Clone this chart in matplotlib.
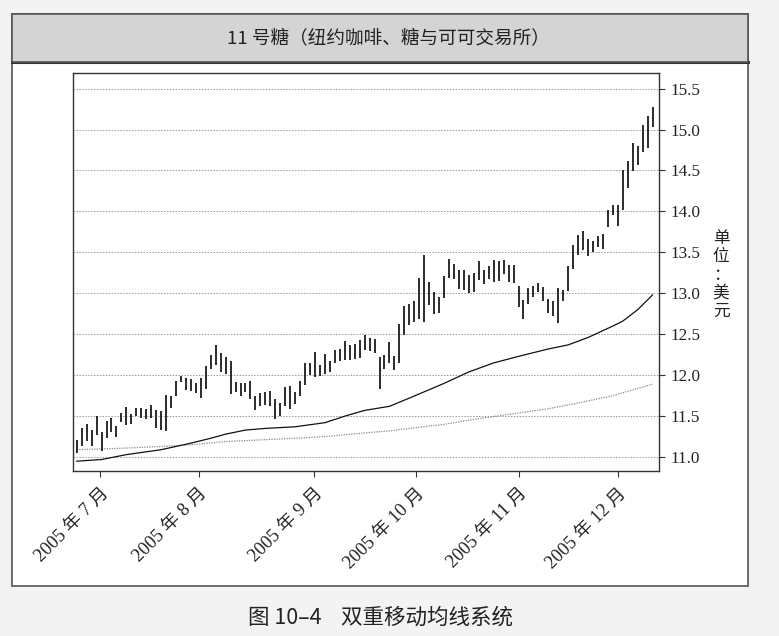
import matplotlib
matplotlib.use("Agg")
import matplotlib.pyplot as plt
from matplotlib.patches import Rectangle
from matplotlib.lines import Line2D
import numpy as np

# daily high / low of sugar #11 (bar chart)
high = [11.21, 11.35, 11.41, 11.33, 11.50, 11.31, 11.44, 11.48, 11.38, 11.54,
        11.61, 11.52, 11.60, 11.60, 11.59, 11.64, 11.58, 11.56, 11.76, 11.75,
        11.93, 11.99, 11.96, 11.95, 11.90, 11.97, 12.11, 12.25, 12.37, 12.27,
        12.22, 12.17, 11.92, 11.91, 11.91, 11.93, 11.74, 11.78, 11.80, 11.81,
        11.71, 11.66, 11.86, 11.87, 11.79, 11.93, 12.15, 12.15, 12.28, 12.13,
        12.26, 12.17, 12.31, 12.32, 12.42, 12.37, 12.38, 12.43, 12.49, 12.46,
        12.44, 12.22, 12.25, 12.40, 12.24, 12.63, 12.84, 12.87, 12.90, 13.19,
        13.47, 13.14, 13.02, 12.96, 13.21, 13.42, 13.36, 13.28, 13.28, 13.22,
        13.25, 13.39, 13.28, 13.33, 13.41, 13.39, 13.41, 13.35, 13.35, 13.09,
        12.92, 13.07, 13.09, 13.12, 13.08, 12.93, 12.90, 13.06, 13.04, 13.33,
        13.59, 13.71, 13.76, 13.66, 13.64, 13.70, 13.72, 14.02, 14.08, 14.08,
        14.50, 14.61, 14.83, 14.80, 15.05, 15.16, 15.27]
low = [11.05, 11.14, 11.20, 11.14, 11.27, 11.08, 11.23, 11.31, 11.24, 11.43,
       11.39, 11.41, 11.50, 11.48, 11.47, 11.48, 11.35, 11.33, 11.32, 11.60,
       11.75, 11.92, 11.82, 11.81, 11.78, 11.72, 11.83, 12.08, 12.13, 12.04,
       12.02, 11.77, 11.79, 11.74, 11.79, 11.71, 11.58, 11.62, 11.64, 11.62,
       11.46, 11.50, 11.62, 11.59, 11.65, 11.75, 11.88, 12.00, 11.98, 11.99,
       12.02, 12.04, 12.15, 12.17, 12.19, 12.19, 12.20, 12.21, 12.31, 12.29,
       12.27, 11.83, 12.07, 12.15, 12.06, 12.15, 12.49, 12.61, 12.65, 12.69,
       12.65, 12.86, 12.75, 12.76, 12.94, 13.19, 13.18, 13.05, 13.04, 13.00,
       13.02, 13.16, 13.11, 13.18, 13.14, 13.15, 13.24, 13.14, 13.12, 12.83,
       12.68, 12.87, 12.96, 13.01, 12.90, 12.76, 12.72, 12.64, 12.90, 13.03,
       13.30, 13.47, 13.53, 13.45, 13.50, 13.57, 13.54, 13.81, 13.95, 13.82,
       14.02, 14.29, 14.49, 14.57, 14.73, 14.78, 15.03]

# short moving average (dark) sampled at bar numbers
ma_fast_bar = [0, 5, 10, 17, 23, 27, 30, 34, 38, 44, 50, 54, 58, 61, 63, 67,
               74, 79, 84, 89, 95, 99, 103, 108, 110, 113, 116]
ma_fast = [10.95, 10.97, 11.03, 11.09, 11.17, 11.23, 11.28, 11.33, 11.35, 11.37,
           11.42, 11.50, 11.57, 11.60, 11.62, 11.72, 11.90, 12.04, 12.15, 12.23,
           12.32, 12.37, 12.46, 12.60, 12.66, 12.80, 12.98]

# long moving average (light) sampled at bar numbers
ma_slow_bar = [0, 10, 17, 23, 30, 37, 44, 50, 57, 63, 67, 74, 81, 88, 95, 101, 108, 116]
ma_slow = [11.09, 11.11, 11.13, 11.15, 11.19, 11.21, 11.23, 11.25, 11.29, 11.32,
           11.35, 11.40, 11.47, 11.53, 11.59, 11.66, 11.75, 11.89]

# month starts, in bar units
month_pos = [4.7, 24.6, 47.8, 68.3, 89.1, 109.0]
month_labels = ["2005 年 7 月", "2005 年 8 月", "2005 年 9 月",
                "2005 年 10 月", "2005 年 11 月", "2005 年 12 月"]
yticks = [11.0, 11.5, 12.0, 12.5, 13.0, 13.5, 14.0, 14.5, 15.0, 15.5]

title = "11 号糖（纽约咖啡、糖与可可交易所）"
caption = "图 10–4    双重移动均线系统"
unit = "单位：美元"

W, H = 779, 636
fig = plt.figure(figsize=(W / 100, H / 100), dpi=100, facecolor="#f3f3f3")

def fx(px):
    return px / W

def fy(py):
    return 1 - py / H

# outer frame and grey header band
fig.patches.append(Rectangle((fx(12), fy(586)), fx(748) - fx(12), fy(14) - fy(586),
                             transform=fig.transFigure, facecolor="white",
                             edgecolor="#555555", lw=1.2, zorder=-2))
fig.patches.append(Rectangle((fx(12), fy(62)), fx(748) - fx(12), fy(14) - fy(62),
                             transform=fig.transFigure, facecolor="#d4d4d4",
                             edgecolor="#555555", lw=1.2, zorder=-1))
fig.lines.append(Line2D([fx(12), fx(748)], [fy(62), fy(62)], transform=fig.transFigure,
                        color="#333333", lw=2.2, zorder=-1))

cjk = ["Noto Sans CJK SC", "DejaVu Sans"]
serif = ["Liberation Serif", "Noto Sans CJK SC"]

fig.text(fx(388), fy(38), title, ha="center", va="center", fontsize=13.4,
         family=cjk, color="#222222")
fig.text(fx(380), fy(618), caption, ha="center", va="center", fontsize=15.5,
         family=cjk, color="#222222")
fig.text(fx(721), fy(275), "\n".join(unit), ha="center", va="center", fontsize=12,
         family=cjk, color="#222222", linespacing=1.1)

ax = fig.add_axes([fx(73), fy(471), fx(659) - fx(73), fy(73) - fy(471)])
ax.set_zorder(1)
ax.set_facecolor("white")

x = np.arange(len(high))
ax.vlines(x, low, high, color="#1a1a1a", lw=1.3, zorder=3)
ax.plot(ma_slow_bar, ma_slow, color="#8a8a8a", lw=0.9, ls=(0, (1, 1)), zorder=2)
ax.plot(ma_fast_bar, ma_fast, color="#111111", lw=0.9, zorder=2)

ax.set_xlim(-0.75, 117.3)
ax.set_ylim(10.83, 15.69)

for v in yticks:
    ax.axhline(v, color="#9a9a9a", lw=0.7, ls=(0, (1.5, 1.5)), zorder=1)

ax.yaxis.tick_right()
ax.set_yticks(yticks)
ax.set_yticklabels([f"{v:.1f}" for v in yticks], family=serif, fontsize=12.3,
                   color="#222222")
ax.set_xticks(month_pos)
ax.set_xticklabels(month_labels, rotation=45, ha="right", va="top",
                   rotation_mode="anchor", family=serif, fontsize=13.2, color="#222222")
ax.tick_params(axis="both", direction="out", length=4, width=0.8, color="#333333")
ax.tick_params(axis="y", pad=4)
ax.tick_params(axis="x", pad=6)

for s in ax.spines.values():
    s.set_color("#333333")
    s.set_linewidth(1.0)

fig.savefig("out.png", dpi=100, facecolor=fig.get_facecolor())
